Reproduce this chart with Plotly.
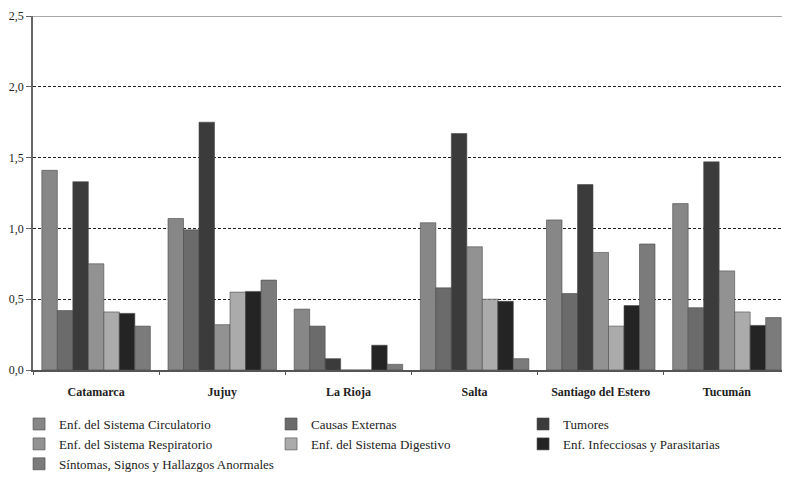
import plotly.graph_objects as go

# Rate per province, seven groups of causes

provinces = ["Catamarca", "Jujuy", "La Rioja", "Salta", "Santiago del Estero", "Tucumán"]

circulatorio = [1.41, 1.07, 0.43, 1.04, 1.06, 1.175]
causas_externas = [0.42, 0.99, 0.31, 0.58, 0.54, 0.44]
tumores = [1.33, 1.75, 0.08, 1.67, 1.31, 1.47]
respiratorio = [0.75, 0.32, 0, 0.87, 0.83, 0.70]
digestivo = [0.41, 0.55, 0, 0.50, 0.31, 0.41]
infecciosas = [0.40, 0.555, 0.175, 0.485, 0.455, 0.315]
sintomas = [0.31, 0.635, 0.04, 0.08, 0.89, 0.37]

series = [
    ("Enf. del Sistema Circulatorio", circulatorio, "#878787"),
    ("Causas Externas", causas_externas, "#6b6b6b"),
    ("Tumores", tumores, "#3b3b3b"),
    ("Enf. del Sistema Respiratorio", respiratorio, "#929292"),
    ("Enf. del Sistema Digestivo", digestivo, "#ababab"),
    ("Enf. Infecciosas y Parasitarias", infecciosas, "#242424"),
    ("Síntomas, Signos y Hallazgos Anormales", sintomas, "#7b7b7b"),
]

serif = "Liberation Serif, Times New Roman, serif"

traces = []
for name, values, color in series:
    traces.append(go.Bar(
        x=provinces,
        y=values,
        name=name,
        marker=dict(color=color, line=dict(color="#4a4a4a", width=0.6)),
    ))

fig = go.Figure(data=traces)

# the page body adds an 8px offset, margins below account for it
fig.update_layout(
    width=790,
    height=478,
    margin=dict(l=25, r=8, t=8, b=116, autoexpand=False),
    paper_bgcolor="white",
    plot_bgcolor="white",
    barmode="group",
    bargap=0.14,
    bargroupgap=0,
    separators=", ",
    font=dict(family=serif, size=12, color="#222"),
    showlegend=True,
    legend=dict(
        orientation="h",
        xref="container",
        yref="container",
        x=0.014,
        y=0.161,
        xanchor="left",
        yanchor="top",
        entrywidth=207,
        traceorder="normal",
        font=dict(family=serif, size=13, color="#222"),
        bgcolor="rgba(0,0,0,0)",
    ),
    xaxis=dict(
        automargin=False,
        showline=True,
        linecolor="#555",
        linewidth=1.5,
        ticks="outside",
        tickson="boundaries",
        ticklen=3,
        tickcolor="#555",
        ticklabelstandoff=10,
        tickfont=dict(family=serif, size=12, color="#222", weight="bold"),
        showgrid=False,
    ),
    yaxis=dict(
        automargin=False,
        range=[0, 2.5],
        dtick=0.5,
        tickformat=".1f",
        ticklabeloverflow="allow",
        showline=True,
        linecolor="#666",
        linewidth=1.5,
        ticks="outside",
        ticklen=5,
        tickcolor="#666",
        showgrid=True,
        gridcolor="#222",
        gridwidth=1.3,
        griddash="3px,2px",
        zeroline=False,
        tickfont=dict(family=serif, size=12, color="#222"),
    ),
    shapes=[
        dict(type="line", xref="paper", yref="y", x0=0, x1=1, y0=2.5, y1=2.5,
             line=dict(color="#aaa", width=2), layer="above"),
    ],
)

fig.write_html("out.html")
